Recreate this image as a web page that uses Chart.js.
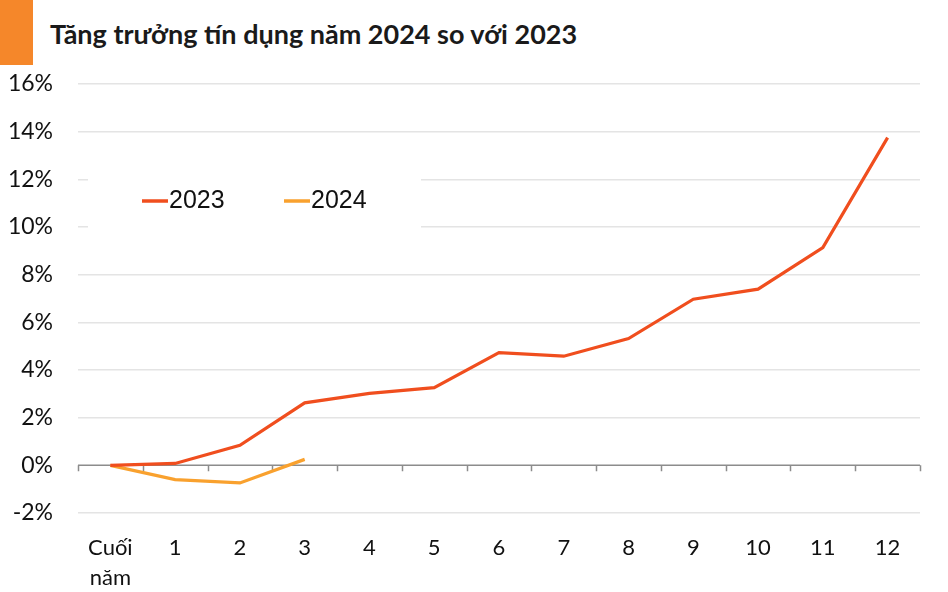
<!DOCTYPE html>
<html>
<head>
<meta charset="utf-8">
<script src="https://cdn.jsdelivr.net/npm/chart.js@4.4.1/dist/chart.umd.min.js"></script>
<style>
  body { margin: 0; background: #fff; }
  #wrap { position: relative; width: 948px; height: 592px; }
  #bar { position: absolute; left: 0; top: 0; width: 33px; height: 65px; background: #f5872a; }
  #title { position: absolute; left: 50px; top: 17px; font: bold 27px Lato; color: #1a1a1a; white-space: nowrap; }
  canvas { position: absolute; left: 0; top: 0; }
</style>
</head>
<body>
<div id="wrap">
  <div id="bar"></div>
  <div id="title">Tăng trưởng tín dụng năm 2024 so với 2023</div>
  <canvas id="creditChart" width="948" height="592"></canvas>
</div>
<script>
const months = [["Cuối", "năm"], "1", "2", "3", "4", "5", "6", "7", "8", "9", "10", "11", "12"];
const growth2023 = [0, 0.08, 0.84, 2.62, 3.02, 3.26, 4.73, 4.58, 5.32, 6.97, 7.39, 9.14, 13.75];
const growth2024 = [0, -0.6, -0.74, 0.25];
const yTicks = [-2, 0, 2, 4, 6, 8, 10, 12, 14, 16];

const red = "#f04e1e";
const orange = "#f9a12e";

// zero line with category ticks, plus the in-plot legend
const decor = {
    id: "decor",
    beforeDatasetsDraw(chart) {
        const { ctx, chartArea, scales } = chart;
        const y0 = scales.y.getPixelForValue(0);
        ctx.save();
        ctx.strokeStyle = "#8c8c8c";
        ctx.lineWidth = 1.5;
        ctx.beginPath();
        ctx.moveTo(chartArea.left, y0);
        ctx.lineTo(chartArea.right, y0);
        const step = (chartArea.right - chartArea.left) / months.length;
        for (let i = 0; i <= months.length; i++) {
            const px = Math.round(chartArea.left + i * step) + 0.5;
            ctx.moveTo(px, y0);
            ctx.lineTo(px, y0 + 6);
        }
        ctx.stroke();

        // legend box hides the gridlines behind it
        ctx.fillStyle = "#fff";
        ctx.fillRect(88, 170, 333, 64);
        const items = [["2023", red, 142], ["2024", orange, 284]];
        ctx.font = "25px 'Liberation Sans'";
        ctx.textBaseline = "middle";
        items.forEach(([label, color, lx]) => {
            ctx.strokeStyle = color;
            ctx.lineWidth = 3.5;
            ctx.beginPath();
            ctx.moveTo(lx, 201);
            ctx.lineTo(lx + 26, 201);
            ctx.stroke();
            ctx.fillStyle = "#111";
            ctx.fillText(label, lx + 27, 201);
        });
        ctx.restore();
    },
};

const ctx = document.getElementById("creditChart").getContext("2d");
const creditChart = new Chart(ctx, {
    type: "line",
    data: {
        labels: months,
        datasets: [
            {
                label: "2023",
                data: growth2023,
                borderColor: red,
                borderWidth: 3.2,
                pointRadius: 0,
                tension: 0,
            },
            {
                label: "2024",
                data: growth2024,
                borderColor: orange,
                borderWidth: 3.2,
                pointRadius: 0,
                tension: 0,
            },
        ],
    },
    options: {
        responsive: false,
        animation: false,
        layout: { padding: { top: 84, right: 28, left: 0, bottom: 0 } },
        plugins: {
            legend: { display: false },
            tooltip: { enabled: false },
        },
        scales: {
            x: {
                offset: true,
                grid: { display: false, drawTicks: false },
                border: { display: false },
                ticks: {
                    color: "#111",
                    font: { family: "Lato", size: 22, lineHeight: 1.35 },
                    padding: 20,
                    maxRotation: 0,
                    autoSkip: false,
                },
                afterFit(scale) { scale.height = 79; },
            },
            y: {
                min: -2,
                max: 16,
                afterBuildTicks(scale) { scale.ticks = yTicks.map((v) => ({ value: v })); },
                grid: {
                    color: (c) => (c.tick && c.tick.value === 0 ? "rgba(0,0,0,0)" : "#e4e4e4"),
                    lineWidth: 1.5,
                    drawTicks: false,
                },
                border: { display: false },
                ticks: {
                    color: "#111",
                    font: { family: "Lato", size: 23 },
                    padding: 25,
                    callback: (v) => v + "%",
                },
                afterFit(scale) { scale.width = 78; },
            },
        },
    },
    plugins: [decor],
});
</script>
</body>
</html>
